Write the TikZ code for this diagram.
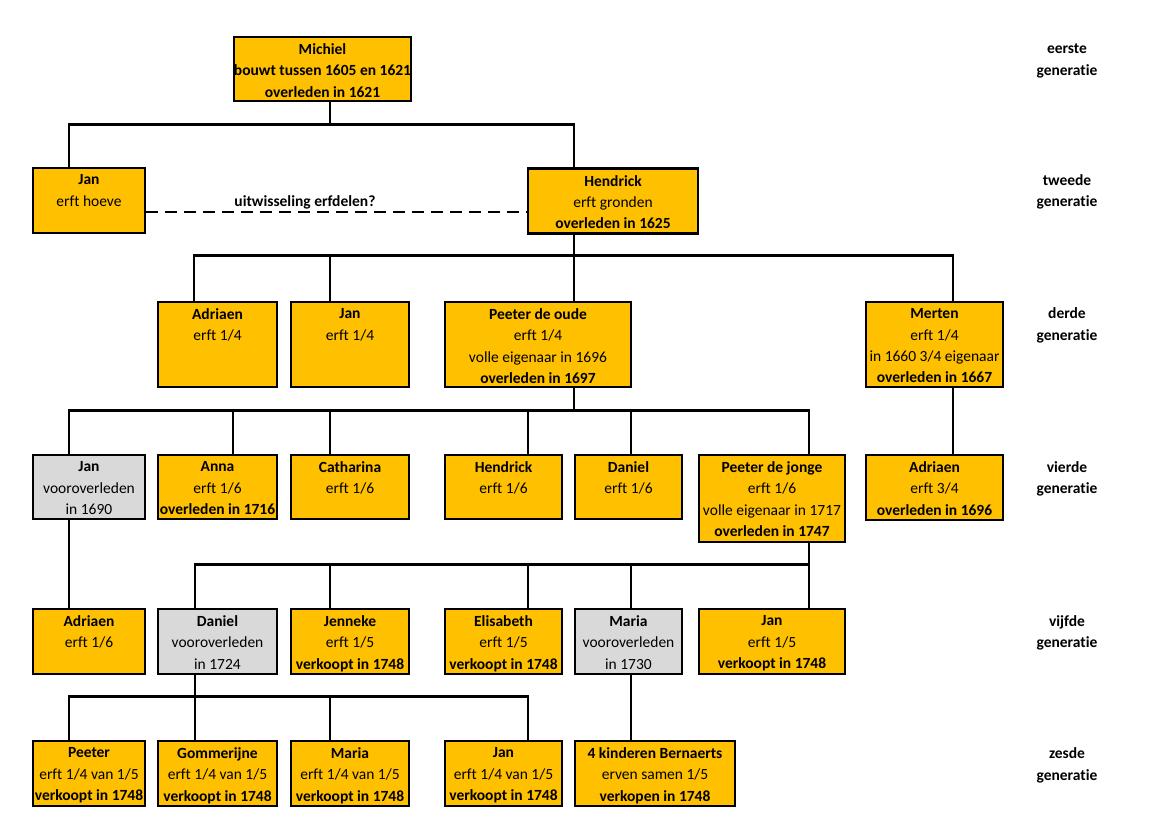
\documentclass[tikz,border=0pt]{standalone}
\usepackage{fontspec}
\setmainfont{Carlito}[Ligatures=NoCommon]
\usepackage{tikz}
\definecolor{gold}{HTML}{FFC000}
\definecolor{lgrey}{HTML}{D9D9D9}

\begin{document}
\begin{tikzpicture}[x=1pt, y=-1pt, line width=2.6pt,
  pb/.style={draw, fill=gold, inner sep=0pt},
  gb/.style={pb, fill=lgrey},
  sz/.style 2 args={minimum width=#1, minimum height=#2},
  tx/.style={anchor=north, align=center, inner sep=8pt, outer sep=0pt, font=\fontsize{15.5}{21.4}\selectfont},
  gen/.style={align=center, font=\fontsize{15.5}{21.4}\selectfont\bfseries}]
\useasboundingbox (0,0) rectangle (1169,826);
% eerste + tweede generatie
\node[pb, sz={177}{64}, label={[tx]north:{\textbf{Michiel}\\\textbf{bouwt tussen 1605 en 1621}\\\textbf{overleden in 1621}}}] (michiel) at (322.5,69) {};
\node[pb, sz={112}{65}, label={[tx]north:{\textbf{Jan}\\erft hoeve}}] (jan2) at (89,200.5) {};
\node[pb, sz={170}{65}, label={[tx]north:{\textbf{Hendrick}\\erft gronden\\\textbf{overleden in 1625}}}] (hendrick2) at (613,201) {};
\foreach \n/\s in {jan2/-20, hendrick2/-39} \draw ([xshift=7.5]michiel.south) -- ++(0,22) -| ([xshift=\s]\n.north);
\draw[dash pattern=on 12pt off 7pt] ([yshift=-11.5]jan2.east) coordinate (d1) -- node[pos=0.417, above=0pt, inner sep=2pt, font=\fontsize{15.5}{21.4}\selectfont\bfseries] (ruil) {uitwisseling erfdelen?} (d1 -| hendrick2.west);
% derde generatie
\node[pb, sz={119}{85}, label={[tx]north:{\textbf{Adriaen}\\erft 1/4}}] (adriaen3) at (217.5,344.5) {};
\node[pb, sz={118}{85}, label={[tx]north:{\textbf{Jan}\\erft 1/4}}] (jan3) at (350,344.5) {};
\node[pb, sz={186}{85}, label={[tx]north:{\textbf{Peeter de oude}\\erft 1/4\\volle eigenaar in 1696\\\textbf{overleden in 1697}}}] (peeter3) at (538,344.5) {};
\node[pb, sz={137}{85}, label={[tx]north:{\textbf{Merten}\\erft 1/4\\in 1660 3/4 eigenaar\\\textbf{overleden in 1667}}}] (merten3) at (934.5,344.5) {};
\foreach \n/\s in {adriaen3/-23.5, jan3/-20, peeter3/36, merten3/18.5} \draw ([xshift=-39]hendrick2.south) -- ++(0,21) -| ([xshift=\s]\n.north);
% vierde generatie
\node[gb, sz={112}{64}, label={[tx]north:{\textbf{Jan}\\vooroverleden\\in 1690}}] (jan4) at (89,487) {};
\node[pb, sz={119}{64}, label={[tx]north:{\textbf{Anna}\\erft 1/6\\\textbf{overleden in 1716}}}] (anna4) at (217.5,487) {};
\node[pb, sz={118}{64}, label={[tx]north:{\textbf{Catharina}\\erft 1/6}}] (catharina4) at (350,487) {};
\node[pb, sz={117}{64}, label={[tx]north:{\textbf{Hendrick}\\erft 1/6}}] (hendrick4) at (503.5,487) {};
\node[pb, sz={107}{64}, label={[tx]north:{\textbf{Daniel}\\erft 1/6}}] (daniel4) at (628.5,487) {};
\node[pb, sz={146}{87}, label={[tx]north:{\textbf{Peeter de jonge}\\erft 1/6\\volle eigenaar in 1717\\\textbf{overleden in 1747}}}] (peeter4) at (772,498.5) {};
\node[pb, sz={137}{65}, label={[tx]north:{\textbf{Adriaen}\\erft 3/4\\\textbf{overleden in 1696}}}] (adriaen4) at (934.5,487.5) {};
\foreach \n/\s in {jan4/-20, anna4/15.5, catharina4/-20, hendrick4/24.5, daniel4/2.5, peeter4/37} \draw ([xshift=36]peeter3.south) -- ++(0,22) -| ([xshift=\s]\n.north);
\draw ([xshift=18.5]merten3.south) -- ([xshift=18.5]adriaen4.north);
% vijfde generatie
\node[pb, sz={112}{65}, label={[tx]north:{\textbf{Adriaen}\\erft 1/6}}] (adriaen5) at (89,641.5) {};
\node[gb, sz={119}{65}, label={[tx]north:{\textbf{Daniel}\\vooroverleden\\in 1724}}] (daniel5) at (217.5,641.5) {};
\node[pb, sz={118}{65}, label={[tx]north:{\textbf{Jenneke}\\erft 1/5\\\textbf{verkoopt in 1748}}}] (jenneke5) at (350,641.5) {};
\node[pb, sz={117}{65}, label={[tx]north:{\textbf{Elisabeth}\\erft 1/5\\\textbf{verkoopt in 1748}}}] (elisabeth5) at (503.5,641.5) {};
\node[gb, sz={107}{65}, label={[tx]north:{\textbf{Maria}\\vooroverleden\\in 1730}}] (maria5) at (628.5,641.5) {};
\node[pb, sz={146}{65}, label={[tx]north:{\textbf{Jan}\\erft 1/5\\\textbf{verkoopt in 1748}}}] (jan5) at (772,641.5) {};
\draw ([xshift=-20]jan4.south) -- ([xshift=-20]adriaen5.north);
\foreach \n/\s in {daniel5/-22.5, jenneke5/-20, elisabeth5/24.5, maria5/2.5, jan5/37} \draw ([xshift=37]peeter4.south) -- ++(0,21) -| ([xshift=\s]\n.north);
% zesde generatie
\node[pb, sz={112}{65}, label={[tx]north:{\textbf{Peeter}\\erft 1/4 van 1/5\\\textbf{verkoopt in 1748}}}] (peeter6) at (89,773.5) {};
\node[pb, sz={119}{65}, label={[tx]north:{\textbf{Gommerijne}\\erft 1/4 van 1/5\\\textbf{verkoopt in 1748}}}] (gommerijne6) at (217.5,773.5) {};
\node[pb, sz={118}{65}, label={[tx]north:{\textbf{Maria}\\erft 1/4 van 1/5\\\textbf{verkoopt in 1748}}}] (maria6) at (350,773.5) {};
\node[pb, sz={117}{65}, label={[tx]north:{\textbf{Jan}\\erft 1/4 van 1/5\\\textbf{verkoopt in 1748}}}] (jan6) at (503.5,773.5) {};
\node[pb, sz={160}{65}, label={[tx]north:{\textbf{4 kinderen Bernaerts}\\erven samen 1/5\\\textbf{verkopen in 1748}}}] (kinderen6) at (655,773.5) {};
\foreach \n/\s in {peeter6/-20, gommerijne6/-22.5, maria6/-20, jan6/24.5} \draw ([xshift=-22.5]daniel5.south) -- ++(0,21) -| ([xshift=\s]\n.north);
\draw ([xshift=2.5]maria5.south) -- ([xshift=-24]kinderen6.north);
% generaties
\node[gen] (eerste) at (1067,61) {eerste\\generatie};
\node[gen] (tweede) at (1067,192) {tweede\\generatie};
\node[gen] (derde) at (1067,325.5) {derde\\generatie};
\node[gen] (vierde) at (1067,479) {vierde\\generatie};
\node[gen] (vijfde) at (1067,633) {vijfde\\generatie};
\node[gen] (zesde) at (1067,765.5) {zesde\\generatie};
\end{tikzpicture}
\end{document}
